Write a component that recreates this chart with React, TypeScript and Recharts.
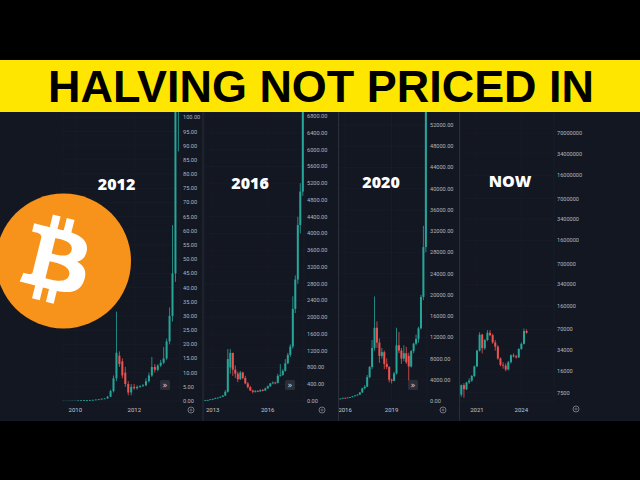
import React from 'react';
import { ComposedChart, Bar, XAxis, YAxis, CartesianGrid } from 'recharts';

const UP = '#26a69a';
const DOWN = '#ef5350';
const BG = '#131722';
const GRID = '#1b1f2b';
const AXIS_TEXT = '#b2b5bd';

// [open, high, low, close]
type Candle = [number, number, number, number];

// 2012 halving cycle (USD, linear 0 - 100)
const CANDLES_2012: Candle[] = [
  [0.05, 0.06, 0.05, 0.06], [0.06, 0.07, 0.06, 0.07], [0.07, 0.08, 0.06, 0.08], [0.08, 0.1, 0.07, 0.1],
  [0.1, 0.12, 0.09, 0.1], [0.1, 0.2, 0.1, 0.2], [0.2, 0.3, 0.2, 0.25], [0.25, 0.3, 0.2, 0.3],
  [0.3, 0.35, 0.25, 0.3], [0.3, 0.4, 0.28, 0.35], [0.35, 0.45, 0.3, 0.4], [0.4, 0.55, 0.35, 0.5],
  [0.5, 0.7, 0.45, 0.6], [0.6, 0.9, 0.55, 0.8], [0.8, 1.0, 0.7, 0.9], [0.9, 1.8, 0.8, 1.5],
  [1.5, 4, 1.4, 3.5], [3.5, 9, 3, 8], [8, 31.5, 7, 17], [16, 17.5, 12, 13],
  [14, 15, 8, 9], [10, 12, 5, 6], [6, 7, 2, 3], [3, 6, 2, 5],
  [5, 6, 4, 4.5], [4.5, 5.5, 4, 5], [5, 5.6, 4.6, 5.2], [5.2, 6, 5, 5.5],
  [5.5, 8, 5.3, 7], [7, 10, 6.5, 9], [9, 15.5, 8.5, 12], [12, 13, 10, 11],
  [11, 13, 10.5, 12.5], [12.5, 14.5, 12, 13.5], [13.5, 19, 13, 15], [15, 22, 14.5, 21],
  [21, 33, 20, 30], [30, 62, 28, 45], [45, 140, 42, 130], [110, 260, 88, 160],
];

// 2016 halving cycle (USD, linear 0 - 6800)
const CANDLES_2016: Candle[] = [
  [15, 22, 14, 20], [20, 28, 18, 25], [25, 42, 24, 40], [40, 55, 35, 50],
  [50, 80, 45, 70], [70, 85, 65, 80], [80, 110, 75, 100], [100, 140, 95, 130],
  [130, 260, 120, 220], [220, 1240, 200, 1000], [800, 1240, 650, 1150], [1150, 1150, 600, 750],
  [750, 850, 550, 650], [650, 700, 450, 520], [520, 720, 500, 680], [680, 700, 520, 550],
  [550, 600, 400, 420], [420, 450, 300, 330], [330, 360, 240, 250], [250, 270, 180, 220],
  [220, 260, 200, 240], [240, 260, 210, 230], [230, 280, 220, 260], [260, 290, 230, 250],
  [250, 320, 240, 300], [300, 370, 290, 350], [350, 430, 340, 420], [420, 470, 400, 440],
  [440, 460, 400, 430], [430, 650, 420, 600], [600, 880, 580, 620], [620, 760, 600, 720],
  [720, 1000, 700, 900], [900, 1150, 880, 1100], [1100, 1350, 1050, 1300], [1300, 2500, 1250, 2200],
  [2200, 3000, 2100, 2900], [2900, 4400, 2800, 4200], [4200, 5200, 4000, 5000], [5000, 7500, 4900, 7200],
];

// 2020 halving cycle (USD, linear 0 - 52000)
const CANDLES_2020: Candle[] = [
  [420, 460, 400, 450], [450, 620, 440, 600], [600, 620, 560, 580], [580, 680, 570, 650],
  [650, 750, 630, 730], [730, 920, 700, 900], [900, 1080, 880, 1050], [1050, 1250, 1000, 1200],
  [1200, 1700, 1150, 1600], [1600, 2500, 1550, 2400], [2400, 3000, 2200, 2700], [2700, 4900, 2600, 4500],
  [4500, 6600, 4300, 6400], [6400, 11500, 6000, 10000], [10000, 19700, 9500, 13800], [13800, 15000, 10000, 11000],
  [11000, 11800, 7200, 8500], [8500, 10000, 8000, 9200], [9200, 9500, 6000, 7000], [7000, 8000, 6000, 6400],
  [6400, 6600, 3500, 4000], [4000, 4200, 3300, 3800], [3800, 5500, 3700, 5200], [5200, 13800, 5000, 10500],
  [10500, 13000, 9000, 9500], [9500, 10000, 7000, 8000], [8000, 10500, 7500, 9000], [9000, 10200, 7000, 7300],
  [8500, 9100, 3800, 6500], [6500, 9600, 6300, 9400], [9400, 11000, 9000, 10800], [10800, 12500, 10500, 11700],
  [11700, 14000, 11000, 13700], [13700, 20000, 13500, 19600], [19600, 33000, 19000, 29000], [29000, 60000, 28000, 58000],
];

// current cycle (USD, log scale)
const CANDLES_NOW: Candle[] = [
  [7000, 10000, 6500, 9800], [9800, 10500, 6300, 8500], [8500, 11000, 8200, 10800], [10800, 12500, 10200, 11500],
  [11500, 14000, 11000, 13500], [13500, 19500, 13000, 19000], [19000, 34000, 18500, 33000], [33000, 63000, 32000, 58000],
  [58000, 60000, 30000, 36000], [36000, 50000, 34000, 48000], [48000, 68000, 46000, 62000], [62000, 68000, 55000, 57000],
  [57000, 60000, 42000, 44000], [44000, 48000, 33000, 38000], [38000, 40000, 24000, 25000], [25000, 26000, 19000, 20000],
  [20000, 22000, 17500, 19500], [19500, 21000, 16000, 17000], [17000, 23000, 16500, 22000], [22000, 29000, 21000, 28000],
  [28000, 30000, 26000, 27000], [27000, 28500, 25000, 26000], [26000, 36000, 25500, 35000], [35000, 44000, 34000, 42000],
  [42000, 72000, 41000, 66000], [66000, 70000, 60000, 62000],
];
const SLOTS_NOW = 36;

const Y_TICKS_2012 = [0, 5, 10, 15, 20, 25, 30, 35, 40, 45, 50, 55, 60, 65, 70, 75, 80, 85, 90, 95, 100];
const Y_TICKS_2016 = [0, 400, 800, 1200, 1600, 2000, 2400, 2800, 3200, 3600, 4000, 4400, 4800, 5200, 5600, 6000, 6400, 6800];
const Y_TICKS_2020 = [0, 4000, 8000, 12000, 16000, 20000, 24000, 28000, 32000, 36000, 40000, 44000, 48000, 52000];
const Y_TICKS_NOW = [7500, 16000, 34000, 70000, 160000, 340000, 700000, 1600000, 3400000, 7000000, 16000000, 34000000, 70000000];

const X_LABELS_2012: [number, string][] = [[4, '2010'], [24, '2012']];
const X_LABELS_2016: [number, string][] = [[3, '2013'], [25, '2016']];
const X_LABELS_2020: [number, string][] = [[2, '2016'], [21, '2019']];
const X_LABELS_NOW: [number, string][] = [[6, '2021'], [23, '2024']];

const BTC_PATH =
  'm46.103,27.444c0.637-4.258-2.605-6.547-7.038-8.074l1.438-5.768-3.511-0.875-1.4,5.616c-0.923-0.23-1.871-0.447-2.813-0.662l1.41-5.653-3.509-0.875-1.439,5.766c-0.764-0.174-1.514-0.346-2.242-0.527l0.004-0.018-4.842-1.209-0.934,3.75s2.605,0.597,2.55,0.634c1.422,0.355,1.679,1.296,1.636,2.042l-1.638,6.571c0.098,0.025,0.225,0.061,0.365,0.117-0.117-0.029-0.242-0.061-0.371-0.092l-2.296,9.205c-0.174,0.432-0.615,1.08-1.609,0.834,0.035,0.051-2.552-0.637-2.552-0.637l-1.743,4.019,4.569,1.139c0.85,0.213,1.683,0.436,2.503,0.646l-1.453,5.834,3.507,0.875,1.439-5.772c0.958,0.26,1.888,0.5,2.798,0.726l-1.434,5.745,3.511,0.875,1.453-5.823c5.987,1.133,10.489,0.676,12.384-4.739,1.527-4.36-0.076-6.875-3.226-8.515,2.294-0.529,4.022-2.038,4.483-5.155zm-8.022,11.249c-1.085,4.36-8.426,2.003-10.806,1.412l1.928-7.729c2.38,0.594,10.012,1.77,8.878,6.317zm1.086-11.312c-0.99,3.966-7.1,1.951-9.082,1.457l1.748-7.01c1.982,0.494,8.365,1.416,7.334,5.553z';

// candle drawn inside the [low, high] range bar; body placed along the same scale
const renderCandle = (log: boolean) => (props: any) => {
  const { x, y, width, height, payload } = props;
  if (!payload || payload.range == null) return <g />;
  const top = Math.min(y, y + height);
  const bottom = Math.max(y, y + height);
  const f = log ? Math.log10 : (v: number) => v;
  const lo = f(payload.l);
  const hi = f(payload.h);
  const toY = (v: number) => (hi === lo ? top : bottom - ((f(v) - lo) / (hi - lo)) * (bottom - top));
  const color = payload.c >= payload.o ? UP : DOWN;
  const y1 = toY(Math.max(payload.o, payload.c));
  const y2 = toY(Math.min(payload.o, payload.c));
  const cx = x + width / 2;
  return (
    <g>
      <line x1={cx} x2={cx} y1={top} y2={bottom} stroke={color} strokeWidth={0.8} />
      <rect x={x} y={y1} width={Math.max(width, 1)} height={Math.max(y2 - y1, 0.8)} fill={color} />
    </g>
  );
};

interface PanelProps {
  candles: Candle[];
  slots: number;
  xLabels: [number, string][];
  yTicks: number[];
  yDomain: [number, number];
  log?: boolean;
  left: number;
  width: number;
  axisWidth: number;
  decimals: number;
}

const Panel: React.FC<PanelProps> = ({ candles, slots, xLabels, yTicks, yDomain, log, left, width, axisWidth, decimals }) => {
  const data = Array.from({ length: slots }, (_, i) => {
    const c = candles[i];
    if (!c) return { i };
    return { i, o: c[0], h: c[1], l: c[2], c: c[3], range: [c[2], c[1]] };
  });
  const labelFor = (i: number) => xLabels.find((x) => x[0] === i)?.[1] ?? '';
  return (
    <div style={{ position: 'absolute', left, top: 112 }}>
      <ComposedChart
        width={width}
        height={309}
        data={data}
        margin={{ top: 0, right: 0, bottom: 0, left: 0 }}
        barCategoryGap="12%"
      >
        <CartesianGrid stroke={GRID} strokeWidth={0.6} />
        <XAxis
          dataKey="i"
          ticks={xLabels.map((x) => x[0])}
          tickFormatter={labelFor}
          interval={0}
          axisLine={false}
          tickLine={false}
          tickSize={5}
          height={20}
          tick={{ fontSize: 6, fill: '#c3c6ce', fontFamily: 'Roboto, sans-serif' }}
        />
        <YAxis
          orientation="right"
          width={axisWidth}
          scale={log ? 'log' : 'linear'}
          domain={yDomain}
          allowDataOverflow
          ticks={yTicks}
          interval={0}
          axisLine={false}
          tickLine={false}
          tickSize={1}
          tickMargin={2}
          tickFormatter={(v: number) => v.toFixed(decimals)}
          tick={{ fontSize: 5.6, fill: AXIS_TEXT, fontFamily: 'Roboto, sans-serif' }}
        />
        <Bar dataKey="range" isAnimationActive={false} shape={renderCandle(!!log)} />
      </ComposedChart>
    </div>
  );
};

const FastForward = ({ x, y }: { x: number; y: number }) => (
  <g>
    <rect x={x} y={y} width={10} height={10} rx={1.5} fill="#2a2e39" />
    <text x={x + 5} y={y + 7.5} textAnchor="middle" fontSize={8} fill="#d1d4dc" fontFamily="DejaVu Sans">»</text>
  </g>
);

const Gear = ({ x, y }: { x: number; y: number }) => (
  <g>
    <circle cx={x} cy={y} r={3} fill="none" stroke="#8a8d96" strokeWidth={0.8} />
    <circle cx={x} cy={y} r={1} fill="none" stroke="#8a8d96" strokeWidth={0.6} />
  </g>
);

const yearStyle = {
  fontFamily: '"Open Sans", Lato, sans-serif',
  fontWeight: 800,
  fontSize: 16,
  fill: '#ffffff',
} as const;

export default function App() {
  return (
    <div style={{ position: 'fixed', left: 0, top: 0, width: 640, height: 480, background: '#000', overflow: 'hidden' }}>
      <div style={{ position: 'absolute', left: 0, top: 112, width: 640, height: 309, background: BG }} />
      <Panel candles={CANDLES_2012} slots={40} xLabels={X_LABELS_2012} yTicks={Y_TICKS_2012} yDomain={[0, 101.9]} left={62} width={141} axisWidth={23} decimals={2} />
      <Panel candles={CANDLES_2016} slots={40} xLabels={X_LABELS_2016} yTicks={Y_TICKS_2016} yDomain={[0, 6900]} left={204} width={134} axisWidth={34} decimals={2} />
      <Panel candles={CANDLES_2020} slots={36} xLabels={X_LABELS_2020} yTicks={Y_TICKS_2020} yDomain={[0, 54450]} left={339} width={120} axisWidth={32} decimals={2} />
      <Panel candles={CANDLES_NOW} slots={SLOTS_NOW} xLabels={X_LABELS_NOW} yTicks={Y_TICKS_NOW} yDomain={[5600, 148000000]} log left={460} width={180} axisWidth={86} decimals={0} />

      <svg width={640} height={480} style={{ position: 'absolute', left: 0, top: 0, pointerEvents: 'none' }}>
        {/* panel separators */}
        {[203, 338.5, 459.5].map((x) => (
          <line key={x} x1={x} x2={x} y1={112} y2={421} stroke="#2a2e39" strokeWidth={1} />
        ))}

        {/* banner */}
        <rect x={0} y={60} width={640} height={52} fill="#FFE600" />
        <text
          x={321}
          y={102}
          textAnchor="middle"
          fontFamily='"Liberation Sans", Arial, sans-serif'
          fontWeight="bold"
          fontSize={44.5}
          textLength={546}
          lengthAdjust="spacingAndGlyphs"
          fill="#000"
        >
          HALVING NOT PRICED IN
        </text>

        {/* bitcoin logo */}
        <circle cx={63.5} cy={261} r={67.5} fill="#F7931A" />
        <path transform="translate(-14.6,190) scale(2.2)" fill="#fff" d={BTC_PATH} />

        {/* cycle labels */}
        <text x={116.5} y={190} textAnchor="middle" style={yearStyle}>2012</text>
        <text x={250} y={189} textAnchor="middle" style={yearStyle}>2016</text>
        <text x={381} y={188} textAnchor="middle" style={yearStyle}>2020</text>
        <text x={510} y={187} textAnchor="middle" style={yearStyle}>NOW</text>

        <FastForward x={160} y={380} />
        <FastForward x={285} y={380} />
        <FastForward x={408} y={380} />
        <Gear x={191} y={410} />
        <Gear x={322} y={410} />
        <Gear x={443} y={410} />
        <Gear x={576} y={409} />
      </svg>
    </div>
  );
}
